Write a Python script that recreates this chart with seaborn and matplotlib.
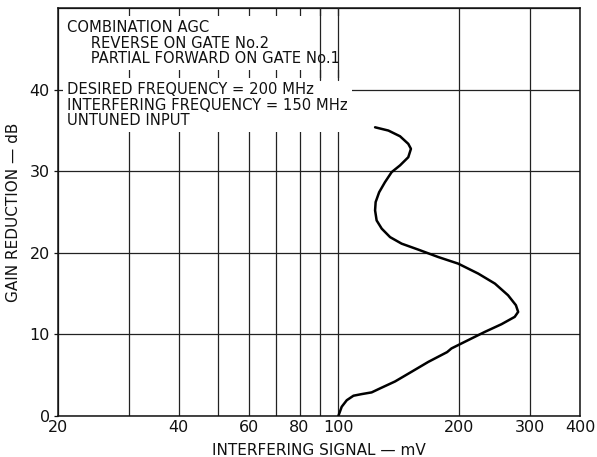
import numpy as np
import pandas as pd
import matplotlib
matplotlib.use("Agg")
import matplotlib.pyplot as plt
import seaborn as sns
from matplotlib.ticker import FixedLocator, FixedFormatter, NullLocator

# ---- data ----
signal_mv = [100, 101.9, 104.9, 109, 114.3, 121, 127, 138.4, 152.3, 167.5, 186.6,
             191.3, 210.6, 231.7, 254.9, 275, 280.5, 276.9, 264.7, 245.5, 223,
             198.8, 177.3, 158.1, 143.7, 134.5, 128.2, 124.5, 123.4, 123.8, 126.3,
             130.6, 135.7, 142.4, 149.3, 151.6, 149.3, 142.4, 133.2, 123.4]
gain_db = [0, 1.1, 1.9, 2.45, 2.65, 2.86, 3.35, 4.2, 5.4, 6.6, 7.8,
           8.25, 9.27, 10.28, 11.22, 12.12, 12.73, 13.55, 14.77, 16.2, 17.43,
           18.65, 19.46, 20.37, 21.1, 21.9, 22.94, 23.95, 25.18, 26.2, 27.4,
           28.64, 29.87, 30.7, 31.7, 32.73, 33.34, 34.27, 34.97, 35.37]

x_grid = [20, 30, 40, 50, 60, 70, 80, 90, 100, 200, 300, 400]
x_tick_labels = ["20", "", "40", "", "60", "", "80", "", "100", "200", "300", "400"]
y_ticks = [0, 10, 20, 30, 40]

block1 = "COMBINATION AGC\n     REVERSE ON GATE No.2\n     PARTIAL FORWARD ON GATE No.1"
block2 = "DESIRED FREQUENCY = 200 MHz\nINTERFERING FREQUENCY = 150 MHz\nUNTUNED INPUT"

df = pd.DataFrame({"signal": signal_mv, "gain": gain_db})

sns.set_theme(style="white")
plt.rcParams['font.family'] = ['DejaVu Sans']

fig = plt.figure(figsize=(5.97, 4.57), dpi=100)
ax = fig.add_axes([58/597, 1-415.7/457, 522/597, 407.7/457])

ax.set_xscale("log")
ax.set_xlim(20, 400)
ax.set_ylim(0, 50)

sns.lineplot(data=df, x="signal", y="gain", sort=False, estimator=None,
             color="black", linewidth=1.8, ax=ax, zorder=5)
for ln in ax.lines:
    ln.set_solid_joinstyle("round")
    ln.set_solid_capstyle("round")

# grid
for xv in x_grid:
    ax.axvline(xv, color="#222222", linewidth=0.9, zorder=1)
for yv in y_ticks + [50]:
    ax.axhline(yv, color="#222222", linewidth=0.9, zorder=1)

ax.xaxis.set_major_locator(FixedLocator(x_grid))
ax.xaxis.set_major_formatter(FixedFormatter(x_tick_labels))
ax.xaxis.set_minor_locator(NullLocator())
ax.set_yticks(y_ticks)
ax.tick_params(axis="x", length=0, pad=3, labelsize=11.5, colors="#111111")
ax.tick_params(axis="y", length=3, width=0.9, pad=3, labelsize=11.5, colors="#111111", left=True)

for s in ax.spines.values():
    s.set_visible(True)
    s.set_color("#111111")
    s.set_linewidth(1.1)

ax.set_xlabel("INTERFERING SIGNAL — mV", fontsize=11, labelpad=6, color="#111111")
ax.set_ylabel("GAIN REDUCTION — dB", fontsize=11, labelpad=6, color="#111111")

bb = dict(boxstyle="square,pad=0.3", facecolor="white", edgecolor="none")
ax.text(9/522, (415.7-43)/407.7, block1, transform=ax.transAxes, ha="left", va="center",
        multialignment="left", fontsize=10.6, linespacing=1.02, color="#111111", bbox=bb, zorder=3)
ax.text(9/522, (415.7-105)/407.7, block2, transform=ax.transAxes, ha="left", va="center",
        multialignment="left", fontsize=10.6, linespacing=1.02, color="#111111", bbox=bb, zorder=3)

# gridlines 90 and 100 stay visible above the lower text block
for xv in [90, 100]:
    ax.axvline(xv, ymin=(415.7-80)/407.7, ymax=1, color="#222222", linewidth=0.9, zorder=4)

fig.savefig("out.png", dpi=100)
